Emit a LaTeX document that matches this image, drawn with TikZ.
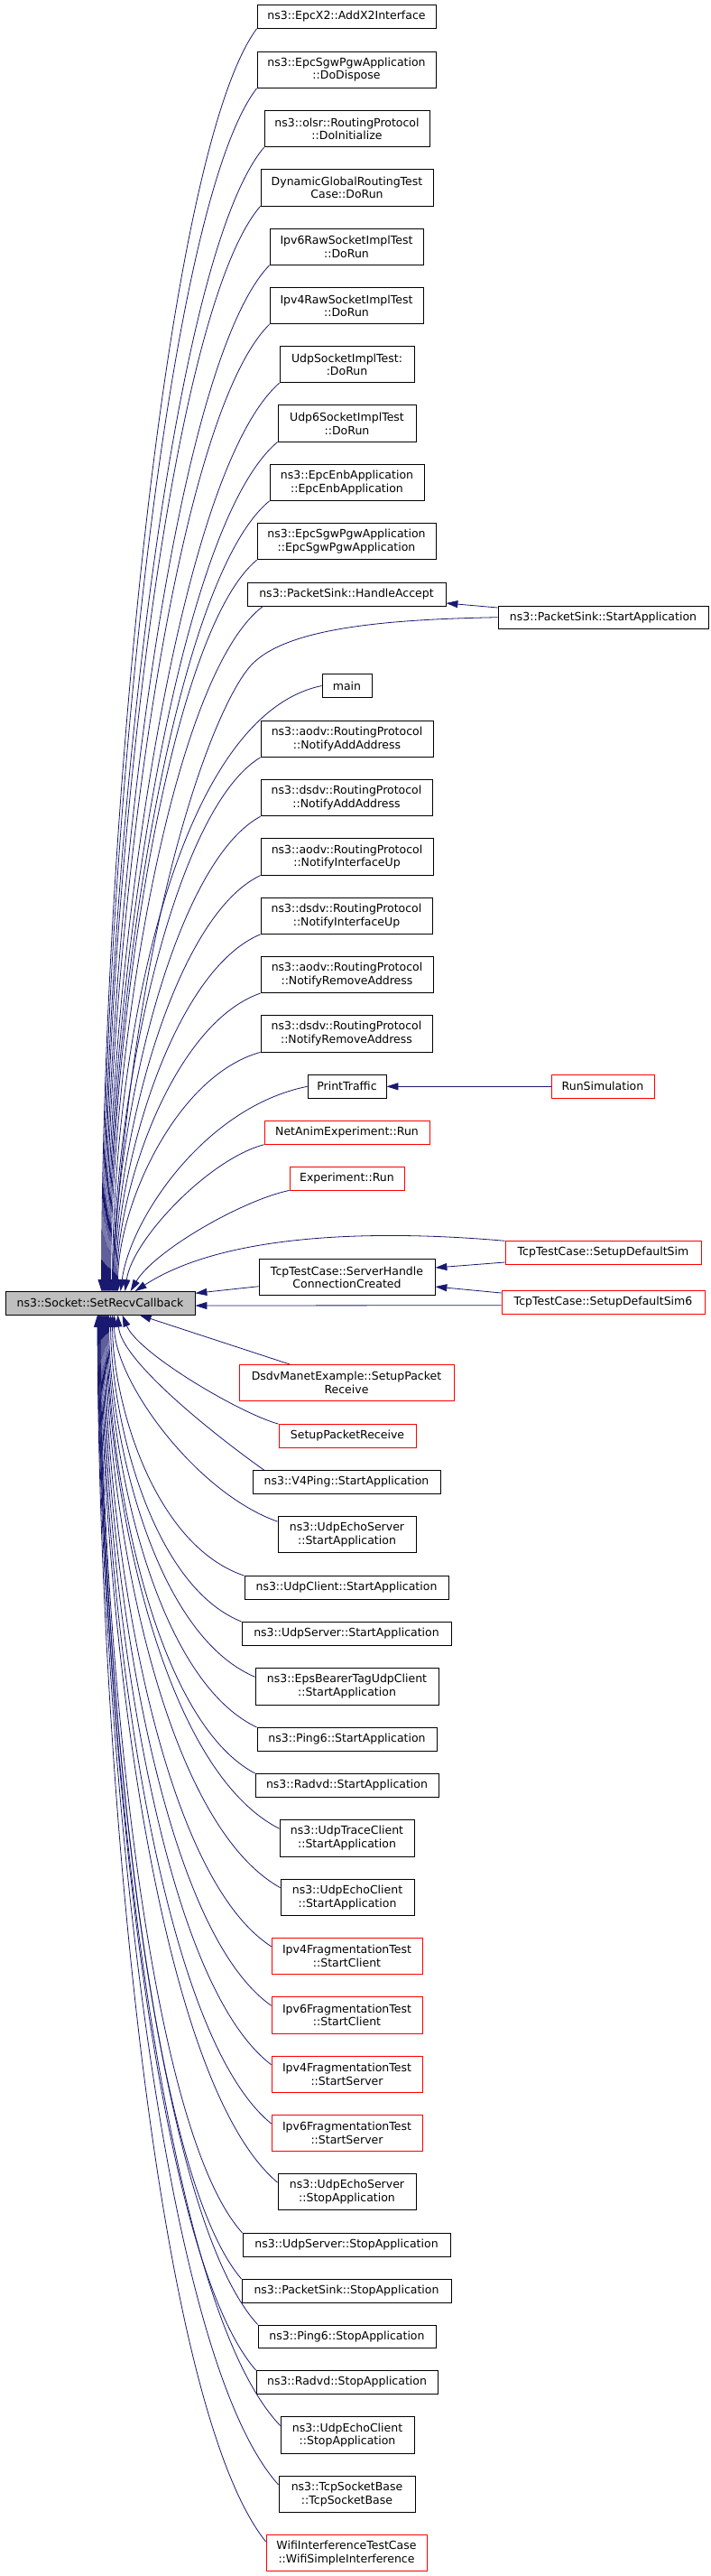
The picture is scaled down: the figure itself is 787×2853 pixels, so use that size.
\documentclass[tikz,border=0pt]{standalone}
\usepackage{fontspec}
\newfontfamily\dejavu{DejaVu Sans}
\usetikzlibrary{arrows.meta,calc}
\definecolor{navy}{HTML}{191970}
\definecolor{boxred}{HTML}{FF0000}
\definecolor{srcgray}{HTML}{BFBFBF}
\tikzset{
 box/.style={draw=black, fill=white, line width=0.8pt, inner sep=0pt, align=center,
   font=\dejavu\fontsize{12.5}{14.7}\selectfont, minimum height=25.6pt},
 two/.style={minimum height=40.3pt},
 redbox/.style={draw=boxred},
 wd/.style={minimum width=#1pt},
 link/.style={draw=navy, line width=0.8pt, -{Triangle[length=13pt,width=8pt]}},
}
\newcommand\fanedge[6]{\draw[link] let \p1=(#1), \p2=(#2) in (\p1) .. controls ({\x1-#3*(\x1-\x2)},{\y1+#4*((\y2)-(\y1))}) and ({\x2+#5*(\x1-\x2)},{\y2+#6*((\y1)-(\y2))}) .. (\p2);}
\newcommand\fanup[2]{\fanedge{#1.south west}{[xshift=#2pt]src.north west}{0.6}{0.1}{0}{0.35}}
\newcommand\fandn[3]{\fanedge{[yshift=-#3pt]#1.north west}{[xshift=#2pt]src.south west}{0.7}{0.12}{0}{0.32}}
\begin{document}
\begin{tikzpicture}[x=1pt,y=-1pt]
\useasboundingbox (0,0) rectangle (787,2853);
% nodes
\node[box,wd=198] (n1) at (384,18.5) {ns3::EpcX2::AddX2Interface};
\node[box,two,wd=198] (n2) at (384,77.2) {ns3::EpcSgwPgwApplication\\::DoDispose};
\node[box,two,wd=183] (n3) at (384.5,142.7) {ns3::olsr::RoutingProtocol\\::DoInitialize};
\node[box,two,wd=191] (n4) at (384.5,207.8) {DynamicGlobalRoutingTest\\Case::DoRun};
\node[box,two,wd=170] (n5) at (384,273.2) {Ipv6RawSocketImplTest\\::DoRun};
\node[box,two,wd=170] (n6) at (384,338.7) {Ipv4RawSocketImplTest\\::DoRun};
\node[box,two,wd=149] (n7) at (384.5,403.7) {UdpSocketImplTest:\\:DoRun};
\node[box,two,wd=153] (n8) at (384.5,469) {Udp6SocketImplTest\\::DoRun};
\node[box,two,wd=171] (n9) at (384.5,534.3) {ns3::EpcEnbApplication\\::EpcEnbApplication};
\node[box,two,wd=198] (n10) at (384,599.7) {ns3::EpcSgwPgwApplication\\::EpcSgwPgwApplication};
\node[box,wd=220] (ha) at (384,658.2) {ns3::PacketSink::HandleAccept};
\node[box,wd=233] (pss) at (668.5,683.7) {ns3::PacketSink::StartApplication};
\node[box,wd=55] (n13) at (384.5,759.5) {main};
\node[box,two,wd=191] (n14) at (384.5,818.3) {ns3::aodv::RoutingProtocol\\::NotifyAddAddress};
\node[box,two,wd=190] (n15) at (384,883.7) {ns3::dsdv::RoutingProtocol\\::NotifyAddAddress};
\node[box,two,wd=191] (n16) at (384.5,949) {ns3::aodv::RoutingProtocol\\::NotifyInterfaceUp};
\node[box,two,wd=190] (n17) at (384,1014.3) {ns3::dsdv::RoutingProtocol\\::NotifyInterfaceUp};
\node[box,two,wd=191] (n18) at (384.5,1079.5) {ns3::aodv::RoutingProtocol\\::NotifyRemoveAddress};
\node[box,two,wd=190] (n19) at (384,1144.8) {ns3::dsdv::RoutingProtocol\\::NotifyRemoveAddress};
\node[box,wd=87] (pt) at (384.5,1203.3) {PrintTraffic};
\node[box,redbox,wd=114] (rs) at (668,1203.3) {RunSimulation};
\node[box,redbox,wd=183] (na) at (384.5,1254.5) {NetAnimExperiment::Run};
\node[box,redbox,wd=127] (ex) at (384.5,1305.2) {Experiment::Run};
\node[box,redbox,wd=217] (sds) at (668.5,1387.5) {TcpTestCase::SetupDefaultSim};
\node[box,two,wd=195] (shc) at (384.5,1414.7) {TcpTestCase::ServerHandle\\ConnectionCreated};
\node[box,fill=srcgray,wd=210] (src) at (111,1443.3) {ns3::Socket::SetRecvCallback};
\node[box,redbox,wd=225] (sds6) at (668.5,1442.2) {TcpTestCase::SetupDefaultSim6};
\node[box,two,redbox,wd=238] (dm) at (384,1531.5) {DsdvManetExample::SetupPacket\\Receive};
\node[box,redbox,wd=152] (spr) at (385,1590.3) {SetupPacketReceive};
\node[box,wd=208] (n30) at (384,1641.3) {ns3::V4Ping::StartApplication};
\node[box,two,wd=153] (n31) at (384.5,1699.7) {ns3::UdpEchoServer\\::StartApplication};
\node[box,wd=226] (n32) at (384,1758.3) {ns3::UdpClient::StartApplication};
\node[box,wd=232] (n33) at (384,1809.2) {ns3::UdpServer::StartApplication};
\node[box,two,wd=203] (n34) at (384.5,1867.8) {ns3::EpsBearerTagUdpClient\\::StartApplication};
\node[box,wd=199] (n35) at (384.5,1926.2) {ns3::Ping6::StartApplication};
\node[box,wd=203] (n36) at (384.5,1977.2) {ns3::Radvd::StartApplication};
\node[box,two,wd=149] (n37) at (384.5,2035.8) {ns3::UdpTraceClient\\::StartApplication};
\node[box,two,wd=148] (n38) at (385,2101.2) {ns3::UdpEchoClient\\::StartApplication};
\node[box,two,redbox,wd=167] (n39) at (384.5,2166.3) {Ipv4FragmentationTest\\::StartClient};
\node[box,two,redbox,wd=167] (n40) at (384.5,2231.8) {Ipv6FragmentationTest\\::StartClient};
\node[box,two,redbox,wd=167] (n41) at (384.5,2297.2) {Ipv4FragmentationTest\\::StartServer};
\node[box,two,redbox,wd=167] (n42) at (384.5,2362.5) {Ipv6FragmentationTest\\::StartServer};
\node[box,two,wd=153] (n43) at (384.5,2427.7) {ns3::UdpEchoServer\\::StopApplication};
\node[box,wd=230] (n44) at (384,2486.2) {ns3::UdpServer::StopApplication};
\node[box,wd=232] (n45) at (384,2537.2) {ns3::PacketSink::StopApplication};
\node[box,wd=197] (n46) at (384.5,2587.7) {ns3::Ping6::StopApplication};
\node[box,wd=201] (n47) at (384.5,2638.3) {ns3::Radvd::StopApplication};
\node[box,two,wd=148] (n48) at (385,2697) {ns3::UdpEchoClient\\::StopApplication};
\node[box,two,wd=151] (n49) at (384.5,2762.5) {ns3::TcpSocketBase\\::TcpSocketBase};
\node[box,two,redbox,wd=178] (n50) at (384,2827.5) {WifiInterferenceTestCase\\::WifiSimpleInterference};
% upper fan
\fanup{n1}{107}
\fanup{n2}{108}
\fanup{n3}{109}
\fanup{n4}{110}
\fanup{n5}{111}
\fanup{n6}{112}
\fanup{n7}{113}
\fanup{n8}{114}
\fanup{n9}{115}
\fanup{n10}{116}
\fanedge{[xshift=18pt]ha.south west}{[xshift=117pt]src.north west}{0.6}{0.1}{0}{0.35}
\draw[link] (pss.west) .. controls (430,686) and (320,695) .. (280,735) .. controls (240,775) and (150,1000) .. ([xshift=118pt]src.north west);
\fanedge{n13.west}{[xshift=119pt]src.north west}{0.7}{0.05}{0}{0.4}
\fanup{n14}{120}
\fanup{n15}{121}
\fanup{n16}{122}
\fanup{n17}{123}
\fanup{n18}{124}
\fanup{n19}{125}
\fanedge{pt.west}{[xshift=128pt]src.north west}{0.55}{0.1}{0.05}{0.35}
\fanedge{na.south west}{[xshift=133pt]src.north west}{0.4}{0.1}{0.05}{0.35}
\fanedge{ex.south west}{[xshift=139pt]src.north west}{0.3}{0.1}{0.15}{0.4}
\draw[link] (sds.north west) .. controls (420,1362) and (250,1365) .. ([xshift=144pt]src.north west);
% right-hand links
\draw[link] ([yshift=10.7pt]pss.west) -- ([yshift=-9.8pt]ha.east);
\draw[link] (rs.west) -- (pt.east);
\draw[link] ([yshift=-10.5pt]sds.west) -- ([yshift=10.7pt]shc.east);
\draw[link] ([yshift=10.2pt]sds6.west) -- ([yshift=-10.3pt]shc.east);
\draw[link] ([yshift=-10pt]shc.west) -- ([yshift=11pt]src.east);
\draw[link] ([yshift=-3.5pt]sds6.west) -- ([yshift=-2.7pt]src.east);
\draw[link] ([xshift=-63pt]dm.north) -- ([xshift=149pt]src.south west);
% lower fan
\fanedge{spr.north west}{[xshift=130pt]src.south west}{0.25}{0.1}{0.1}{0.35}
\fanedge{[xshift=13pt]n30.north west}{[xshift=125pt]src.south west}{0.3}{0.2}{0.02}{0.3}
\fanedge{[yshift=-6pt]n31.north west}{[xshift=121pt]src.south west}{0.5}{0.14}{0}{0.32}
\fandn{n32}{119}{0}
\fandn{n33}{117}{0}
\fandn{n34}{115}{10}
\fandn{n35}{114}{0}
\fandn{n36}{113}{0}
\fandn{n37}{112}{10}
\fandn{n38}{111}{10}
\fandn{n39}{110}{10}
\fandn{n40}{109}{10}
\fandn{n41}{108}{10}
\fandn{n42}{107}{10}
\fandn{n43}{106}{10}
\fandn{n44}{105.5}{0}
\fandn{n45}{105}{0}
\fandn{n46}{104.5}{0}
\fandn{n47}{104}{0}
\fandn{n48}{103.5}{10}
\fandn{n49}{103}{10}
\fandn{n50}{102.5}{8}
\end{tikzpicture}
\end{document}
